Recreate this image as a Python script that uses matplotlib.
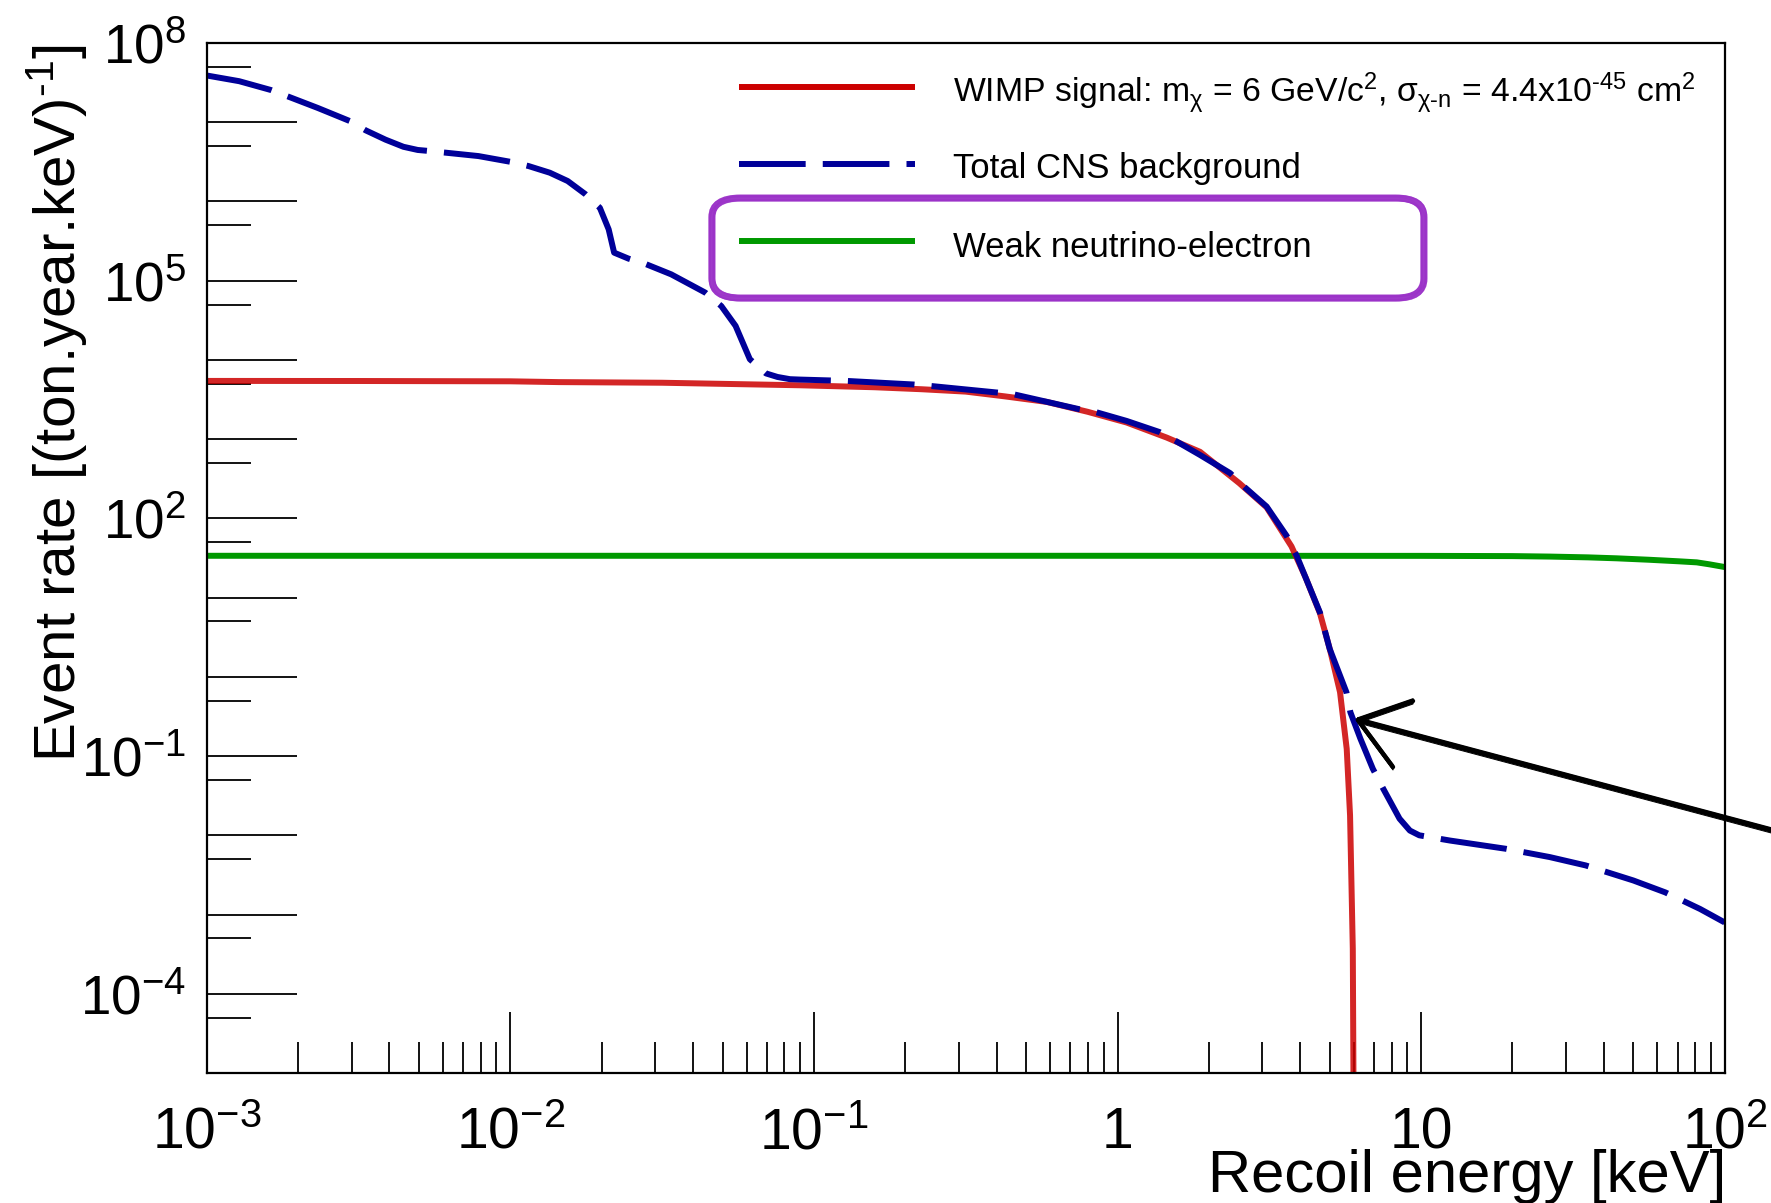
import numpy as np
import matplotlib
matplotlib.use("Agg")
import matplotlib.pyplot as plt
from matplotlib.lines import Line2D
from matplotlib.patches import FancyBboxPatch
from matplotlib.ticker import FixedLocator, FixedFormatter, NullFormatter

plt.rcParams["font.family"] = ["Liberation Sans", "DejaVu Sans"]
plt.rcParams["mathtext.fontset"] = "custom"
plt.rcParams["mathtext.rm"] = "Liberation Sans"
plt.rcParams["mathtext.it"] = "Liberation Sans:italic"
plt.rcParams["mathtext.bf"] = "Liberation Sans:bold"
plt.rcParams["lines.scale_dashes"] = False

# ---------------- data (log10 of energy [keV] and log10 of rate) ----------------
wimp_log_e = [-3.0, -2.5, -2.0, -1.84, -1.5, -1.046, -0.8, -0.645, -0.5, -0.371, -0.233,
              -0.098, 0.03, 0.162, 0.272, 0.401, 0.491, 0.573, 0.62, 0.667, 0.70,
              0.733, 0.755, 0.766, 0.775, 0.7785]
wimp_log_rate = [3.735, 3.734, 3.73, 3.72, 3.712, 3.68, 3.655, 3.63, 3.60, 3.54, 3.47,
                 3.345, 3.21, 3.02, 2.84, 2.445, 2.14, 1.647, 1.25, 0.80, 0.34,
                 -0.194, -0.91, -1.75, -3.43, -6.0]

cns_log_e = [-3.0, -2.893, -2.787, -2.729, -2.634, -2.528, -2.476, -2.411, -2.352, -2.305,
             -2.276, -2.211, -2.105, -1.999, -1.94, -1.87, -1.811, -1.752, -1.705, -1.676,
             -1.658, -1.611, -1.552, -1.47, -1.358, -1.305, -1.258, -1.211, -1.158, -1.12,
             -1.079, -1.046, -0.892, -0.673, -0.617, -0.398, -0.343, -0.126, -0.07, 0.03,
             0.138, 0.186, 0.272, 0.371, 0.42, 0.491, 0.557, 0.59, 0.667, 0.699, 0.754,
             0.767, 0.80, 0.841, 0.875, 0.929, 0.963, 0.994, 1.095, 1.279, 1.424, 1.542,
             1.699, 1.804, 1.919, 2.0]
cns_log_rate = [7.59, 7.518, 7.405, 7.32, 7.18, 7.014, 6.897, 6.78, 6.69, 6.65,
                6.64, 6.615, 6.573, 6.50, 6.447, 6.363, 6.258, 6.09, 5.92, 5.648,
                5.354, 5.279, 5.207, 5.08, 4.85, 4.68, 4.43, 4.009, 3.83, 3.785,
                3.757, 3.752, 3.735, 3.69, 3.672, 3.589, 3.567, 3.378, 3.34, 3.23,
                3.09, 2.99, 2.80, 2.571, 2.39, 2.15, 1.78, 1.53, 0.81, 0.352, -0.194,
                -0.446, -0.78, -1.16, -1.41, -1.79, -1.94, -2.00, -2.066, -2.17, -2.275, -2.38,
                -2.57, -2.72, -2.93, -3.10]

nue_log_e = [-3.0, 0.0, 1.0, 1.3, 1.424, 1.55, 1.644, 1.75, 1.85, 1.908, 1.95, 2.0]
nue_log_rate = [1.528, 1.528, 1.527, 1.524, 1.518, 1.508, 1.496, 1.478, 1.458, 1.445, 1.42, 1.386]

series_labels = [
    r"WIMP signal: m$_{\mathrm{\chi}}$ = 6 GeV/c$^{2}$, $\mathrm{\sigma}_{\mathrm{\chi}\text{-}\mathrm{n}}$ = 4.4x10$^{\text{-}45}$ cm$^{2}$",
    "Total CNS background",
    "Weak neutrino-electron",
]

x_tick_exps = [-3, -2, -1, 0, 1, 2]
x_tick_labels = [r"$10^{-3}$", r"$10^{-2}$", r"$10^{-1}$", "1", "10", r"$10^{2}$"]
y_tick_exps = list(range(-5, 9))
y_label_map = {8: r"$10^{8}$", 5: r"$10^{5}$", 2: r"$10^{2}$", -1: r"$10^{-1}$", -4: r"$10^{-4}$"}

x_title = "Recoil energy [keV]"
y_title = r"Event rate [(ton.year.keV)$^{\text{-}1}$]"

# ---------------- figure / layout ----------------
W, H = 1771, 1203
fig = plt.figure(figsize=(W / 100, H / 100), dpi=100)


def fx(px):
    return px / W


def fy(py):
    return 1 - py / H


ax_l, ax_r, ax_t, ax_b = 206.7, 1724.7, 43.0, 1073.0
ax = fig.add_axes([fx(ax_l), fy(ax_b), (ax_r - ax_l) / W, (ax_b - ax_t) / H])
ax.set_xscale("log")
ax.set_yscale("log")
ax.set_xlim(1e-3, 1e2)
ax.set_ylim(1e-5, 1e8)

RED, BLUE, GREEN = "#cc0000", "#000099", "#009900"
LW = 4.3
DASH = (48, 12.3)

l_nue, = ax.plot(10 ** np.array(nue_log_e), 10 ** np.array(nue_log_rate),
                 color=GREEN, lw=LW, solid_capstyle="butt", solid_joinstyle="round")
l_wimp, = ax.plot(10 ** np.array(wimp_log_e), 10 ** np.array(wimp_log_rate),
                  color=RED, lw=LW, alpha=0.85, solid_capstyle="butt", solid_joinstyle="round")
l_cns, = ax.plot(10 ** np.array(cns_log_e), 10 ** np.array(cns_log_rate),
                 color=BLUE, lw=LW, dashes=DASH, dash_capstyle="butt", dash_joinstyle="round")

# ---------------- axes styling ----------------
for sp in ax.spines.values():
    sp.set_linewidth(1.6)

ax.xaxis.set_major_locator(FixedLocator([10.0 ** e for e in x_tick_exps]))
ax.xaxis.set_major_formatter(FixedFormatter(x_tick_labels))
xminor = [k * 10.0 ** e for e in range(-3, 2) for k in range(2, 10)]
ax.xaxis.set_minor_locator(FixedLocator(xminor))
ax.xaxis.set_minor_formatter(NullFormatter())

ax.yaxis.set_major_locator(FixedLocator([10.0 ** e for e in y_tick_exps]))
ax.yaxis.set_major_formatter(FixedFormatter([y_label_map.get(e, "") for e in y_tick_exps]))
ax.yaxis.set_minor_locator(FixedLocator([5 * 10.0 ** e for e in range(-5, 8)]))
ax.yaxis.set_minor_formatter(NullFormatter())

ax.tick_params(axis="x", which="major", direction="in", length=44, width=1.3,
               labelsize=41, pad=24, top=False)
ax.tick_params(axis="x", which="minor", direction="in", length=22, width=1.3, top=False)
ax.tick_params(axis="y", which="major", direction="in", length=65, width=1.3,
               labelsize=39.5, pad=15, right=False)
ax.tick_params(axis="y", which="minor", direction="in", length=32, width=1.3, right=False)

fig.text(fx(1726), fy(1192), x_title, fontsize=43, ha="right", va="baseline")
fig.text(fx(75), fy(44), y_title, fontsize=42, rotation=90, rotation_mode="anchor",
         ha="right", va="baseline")

# ---------------- legend (ROOT style, no frame) ----------------
leg_line_x = (739, 915)
leg_text_x = 952.7
leg_rows = [(86.7, 102.7), (164.3, 178.3), (241.0, 257.3)]
leg_sizes = [24.3, 25, 25]
for src, lab, (ly, ty), fs in zip([l_wimp, l_cns, l_nue], series_labels, leg_rows, leg_sizes):
    h = Line2D([fx(leg_line_x[0]), fx(leg_line_x[1])], [fy(ly), fy(ly)],
               transform=fig.transFigure, color=src.get_color(), lw=LW,
               solid_capstyle="butt", dash_capstyle="butt")
    if src is l_cns:
        h.set_dashes(DASH)
    fig.add_artist(h)
    fig.text(fx(leg_text_x), fy(ty), lab, fontsize=fs, ha="left", va="baseline")

# ---------------- hand-drawn annotations ----------------
PURPLE = "#9a30c8"
box_l, box_t, box_r, box_b = 712, 198, 1424, 298
for dx, dy, lw, a in [(0, 0, 5.0, 0.95), (-2, 2, 1.2, 0.6), (2, -2, 1.2, 0.6),
                      (-3, -1, 0.8, 0.5), (1, 3, 0.8, 0.5)]:
    p = FancyBboxPatch((fx(box_l + dx), fy(box_b + dy)), (box_r - box_l) / W, (box_b - box_t) / H,
                       boxstyle="round,pad=0,rounding_size=0.016", transform=fig.transFigure,
                       fill=False, edgecolor=PURPLE, lw=lw, alpha=a)
    fig.add_artist(p)

tip = (1358, 720)
tail = (1790, 835)
barb1 = (1413, 701)
barb2 = (1393, 767)
for off, lw in [(0, 3.2), (2, 1.2), (-2, 1.2), (3, 0.7)]:
    for a, b in [(tail, tip), (tip, barb1), (tip, barb2)]:
        fig.add_artist(Line2D([fx(a[0]), fx(b[0])], [fy(a[1] + off), fy(b[1] + off)],
                              transform=fig.transFigure, color="black", lw=lw,
                              solid_capstyle="round"))

fig.savefig("out.png", dpi=100)
